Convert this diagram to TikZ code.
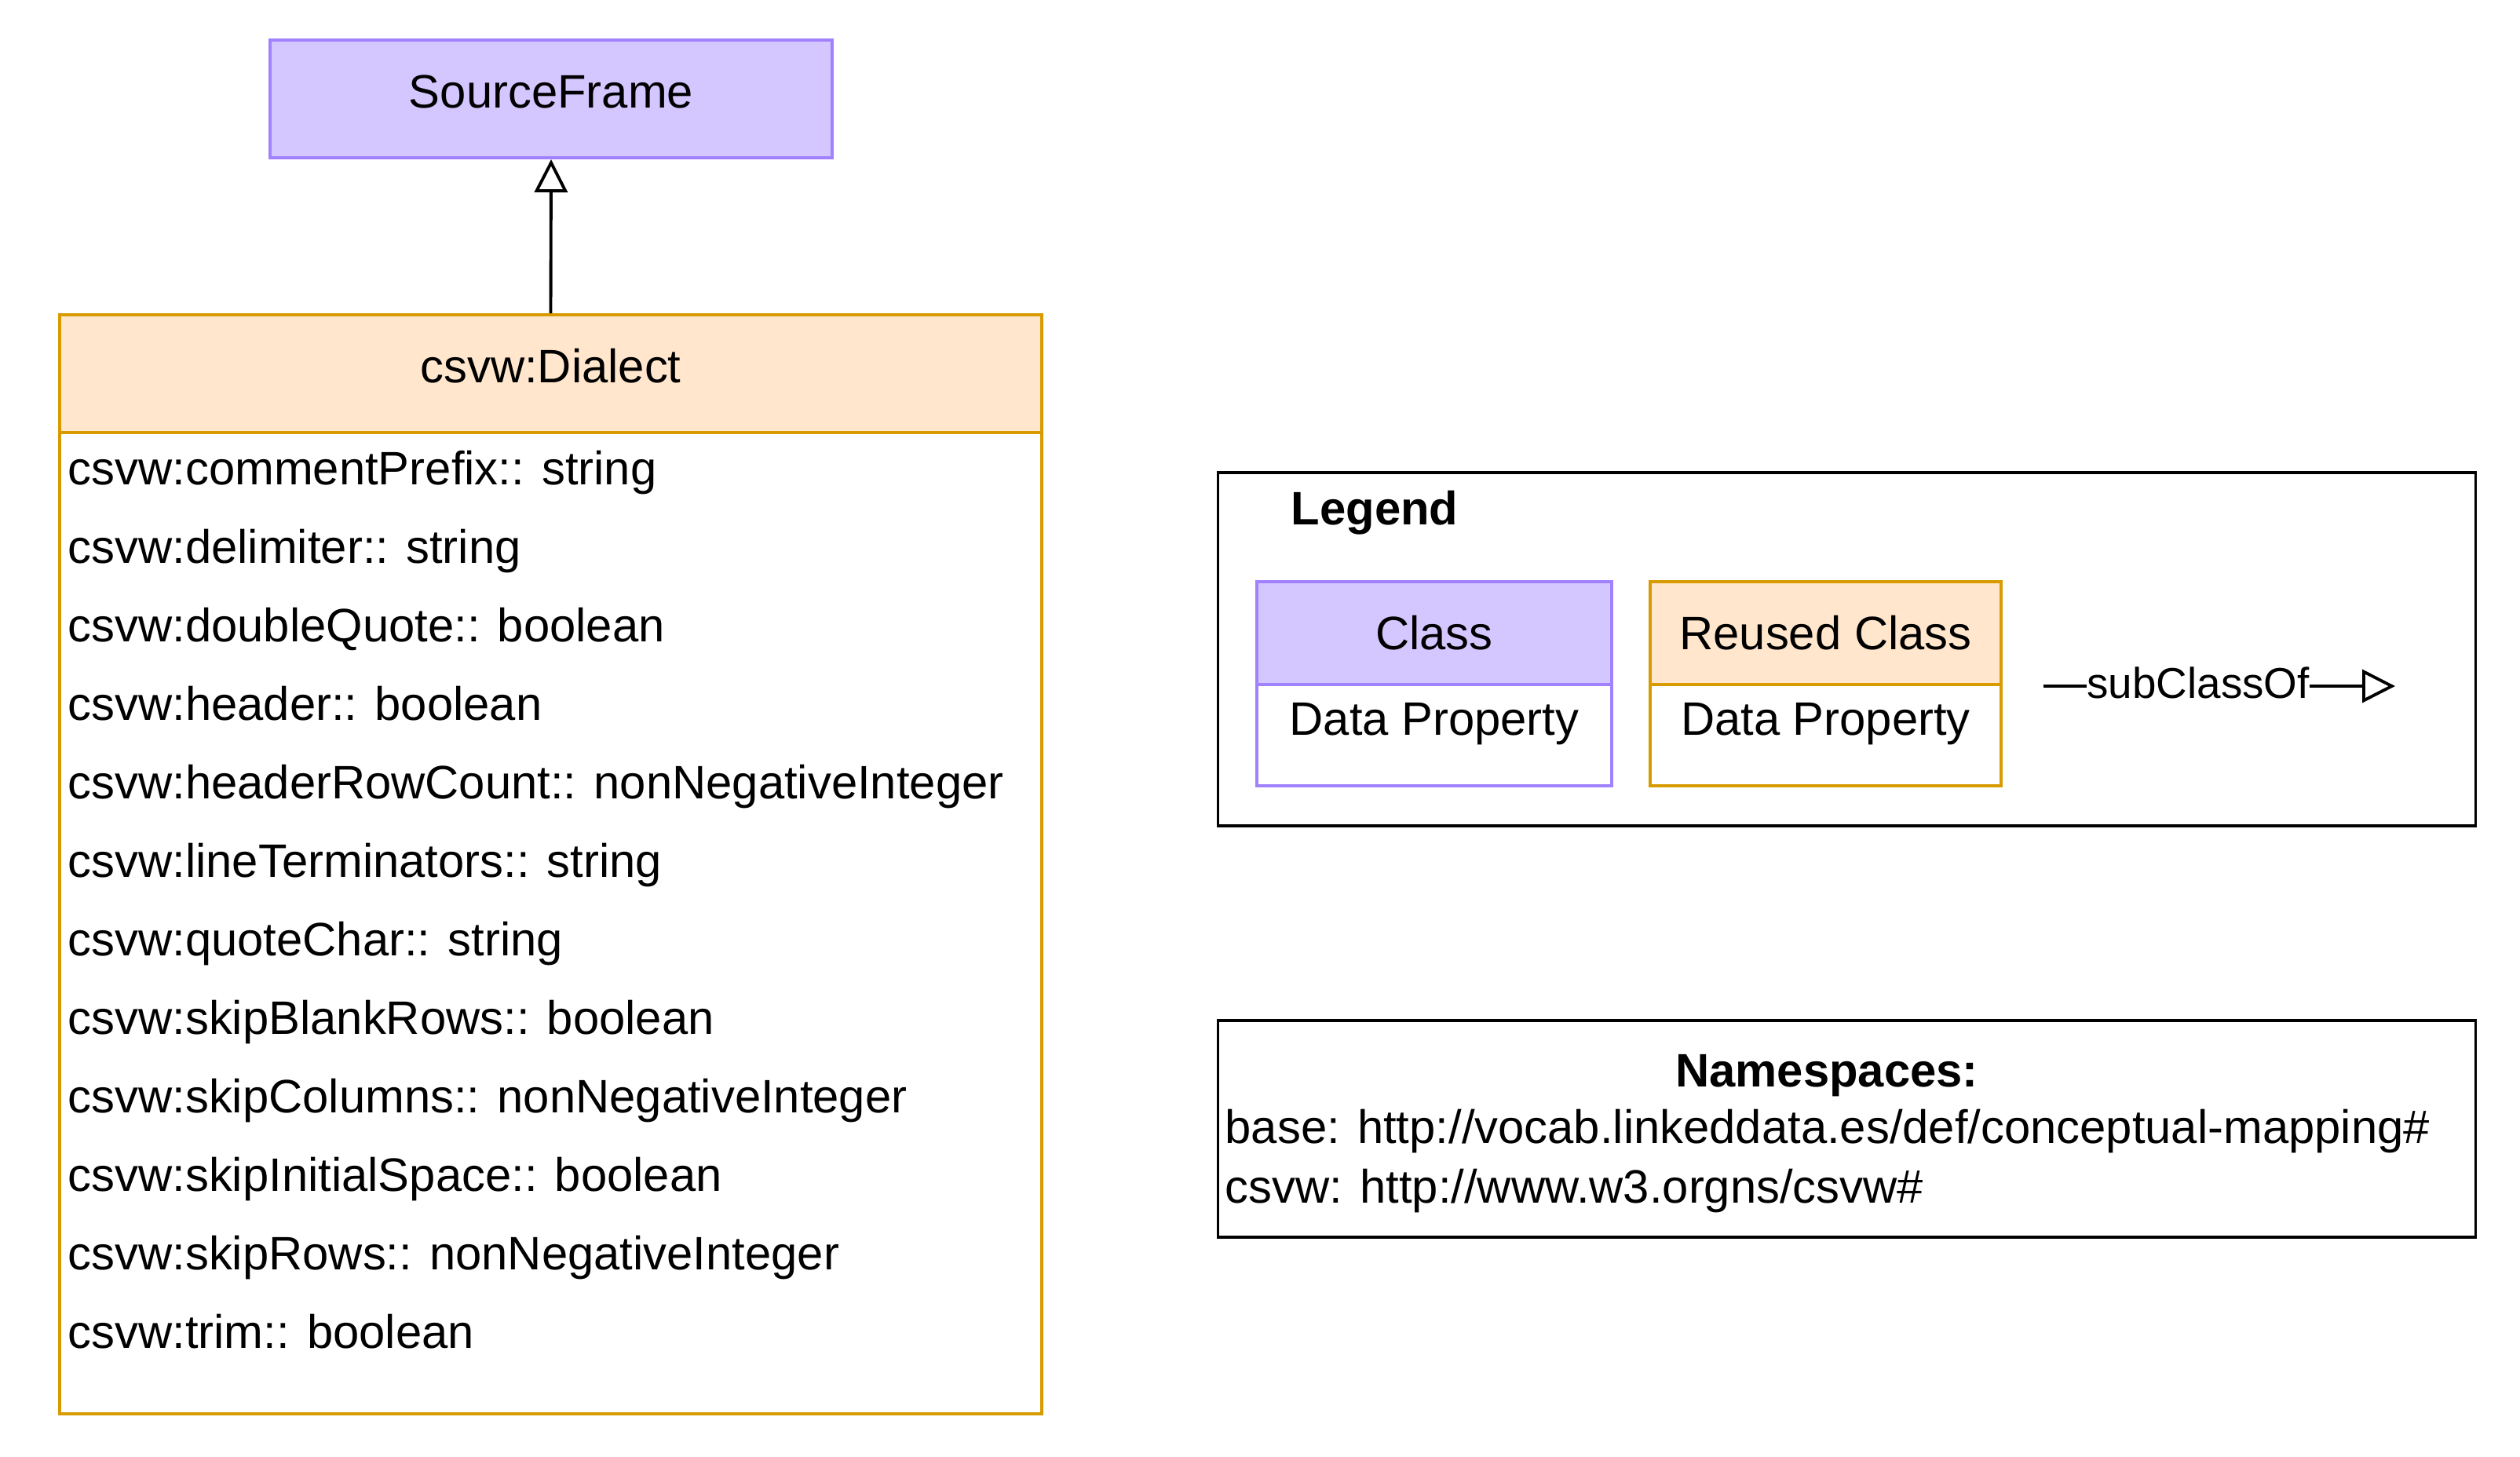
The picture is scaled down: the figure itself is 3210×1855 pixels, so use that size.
\documentclass[tikz,border=0pt]{standalone}
\usepackage{fontspec}
\setmainfont{Liberation Sans}
\usetikzlibrary{arrows.meta,positioning}
\definecolor{classfill}{HTML}{D4C6FF}
\definecolor{classline}{HTML}{A281FF}
\definecolor{reusefill}{HTML}{FFE6CC}
\definecolor{reuseline}{HTML}{D79B00}
\newcommand{\dfont}{\fontsize{17}{20}\selectfont}

\begin{document}
\begin{tikzpicture}[
        x=0.01cm, y=-0.01cm,
        box/.style={
            draw,
            line width=1.1pt,
            inner sep=0pt,
            font=\dfont
        },
        classbox/.style={box, draw=classline, fill=classfill},
        reusebox/.style={box, draw=reuseline, fill=reusefill},
        txt/.style={font=\dfont, inner sep=0pt, text height=1em, text depth=0em},
        subarrow/.style={line width=1.1pt, -{Triangle[open, length=0.42cm, width=0.42cm]}}
    ]
    \useasboundingbox (0,0) rectangle (3210,1855);

    % Clases
    \node[classbox, minimum width=7.16cm, minimum height=1.5cm] (source) at (702,126) {};
    \node[txt, text height=0.83em, text depth=0.17em] (sourcelabel) at (702,126) {SourceFrame};
    \node[reusebox, minimum width=12.51cm, minimum height=1.5cm] (dialect) at (701.5,476) {};
    \node[txt, text height=0.83em, text depth=0.17em] (dialectlabel) at (701.5,476) {csvw:Dialect};
    \node[box, draw=reuseline, minimum width=12.51cm, minimum height=12.5cm] (dialectbody) at (701.5,1176) {};

    % Propiedades
    \foreach \prop [count=\i] in {
        csvw:commentPrefix:: string,
        csvw:delimiter:: string,
        csvw:doubleQuote:: boolean,
        csvw:header:: boolean,
        csvw:headerRowCount:: nonNegativeInteger,
        csvw:lineTerminators:: string,
        csvw:quoteChar:: string,
        csvw:skipBlankRows:: boolean,
        csvw:skipColumns:: nonNegativeInteger,
        csvw:skipInitialSpace:: boolean,
        csvw:skipRows:: nonNegativeInteger,
        csvw:trim:: boolean}
        \node[txt, anchor=west] (prop\i) at (86,{500+100*\i}) {\prop};

    % subClassOf
    \draw[subarrow] (dialect.north) -- (source.south);

    % Leyenda
    \node[box, minimum width=16.01cm, minimum height=4.5cm] (legend) at (2352.5,827) {};
    \node[txt, font=\dfont\bfseries, anchor=west] (legendtitle) at (1644,651) {Legend};
    \node[classbox, minimum width=4.52cm, minimum height=1.31cm] (legclass) at (1827,806.5) {Class};
    \node[box, draw=classline, minimum width=4.52cm, minimum height=1.29cm] (legclassbody) at (1827,936.5) {};
    \node[txt] (legclassprop) at (1827,919) {Data Property};
    \node[reusebox, minimum width=4.47cm, minimum height=1.31cm] (legreuse) at (2325.5,806.5) {Reused Class};
    \node[box, draw=reuseline, minimum width=4.47cm, minimum height=1.29cm] (legreusebody) at (2325.5,936.5) {};
    \node[txt] (legreuseprop) at (2325.5,919) {Data Property};
    \coordinate (subfrom) at (2603,874);
    \coordinate (subto) at (3051,874);
    \draw[subarrow] (subfrom) -- (subto)
        node[txt, font=\fontsize{15.6}{18}\selectfont, pos=0.44, fill=white, text height=0.95em, text depth=0.05em] (sublabel) {subClassOf};

    % Namespaces
    \node[box, minimum width=16.01cm, minimum height=2.76cm] (ns) at (2352.5,1438) {};
    \node[txt, font=\dfont\bfseries] (nstitle) at (2327,1367) {Namespaces:};
    \node[txt, anchor=west] (nsbase) at (1560,1439) {base: http://vocab.linkeddata.es/def/conceptual-mapping\#};
    \node[txt, anchor=west] (nscsvw) at (1560,1515) {csvw: http://www.w3.orgns/csvw\#};

\end{tikzpicture}
\end{document}
